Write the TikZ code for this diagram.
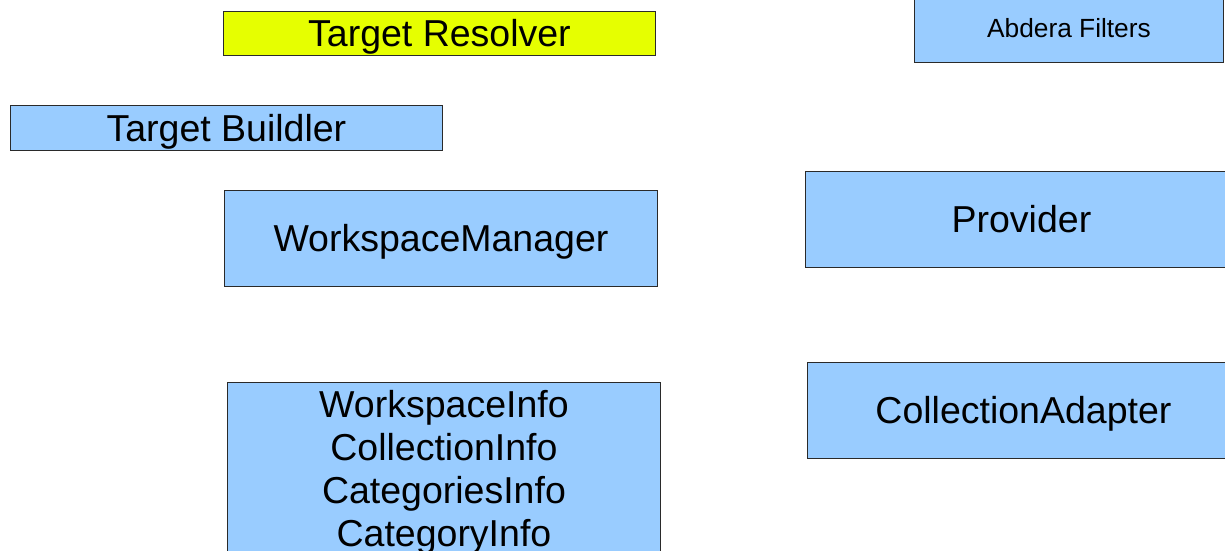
\documentclass[tikz,border=0pt]{standalone}
\usepackage{fontspec}
\setmainfont{Liberation Sans}
\definecolor{boxblue}{HTML}{99CCFF}
\definecolor{boxyellow}{HTML}{E6FF00}
\definecolor{edge}{HTML}{2A2A2A}
\begin{document}
\begin{tikzpicture}[x=1pt,y=-1pt,
  box/.style={draw=edge, line width=0.9pt, fill=boxblue, anchor=north west,
    inner sep=0pt, font=\fontsize{37.5}{43}\selectfont, align=center,
    minimum width=432pt},
  oneline/.style={box, text height=27pt, text depth=0pt},
  smallbox/.style={box, font=\fontsize{26.3}{30}\selectfont,
    text height=18.8pt, text depth=0pt}
]
\useasboundingbox (0,0) rectangle (1225,550);
\node[oneline, fill=boxyellow, minimum height=44pt] (tr) at (223,11) {Target Resolver};
\node[smallbox, minimum width=309pt, minimum height=68pt] (af) at (914,-6) {Abdera Filters};
\node[oneline, minimum height=45pt] (tb) at (10,105) {Target Buildler};
\node[oneline, minimum width=433pt, minimum height=96pt] (wm) at (224,190) {WorkspaceManager};
\node[oneline, minimum height=96pt] (pr) at (805,171) {Provider};
\node[oneline, minimum height=96pt] (ca) at (807,362) {CollectionAdapter};
\node[box, minimum width=433pt, minimum height=180pt] (wi) at (227,382)
  {WorkspaceInfo\\CollectionInfo\\CategoriesInfo\\CategoryInfo};
\end{tikzpicture}
\end{document}
